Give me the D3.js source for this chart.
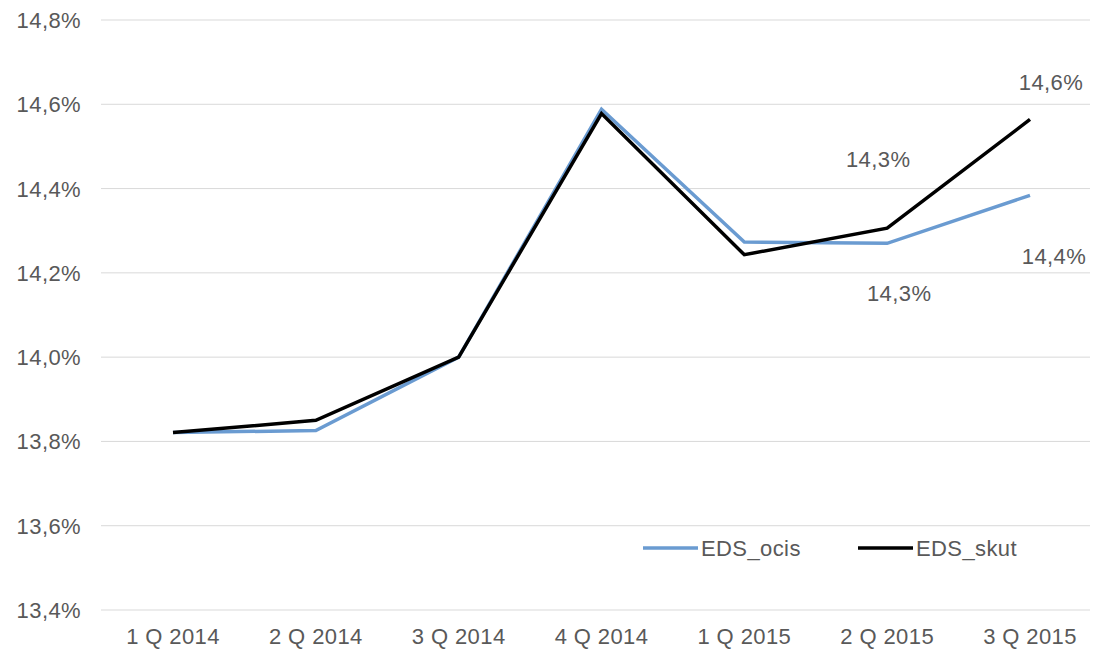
<!DOCTYPE html>
<html>
<head>
<meta charset="utf-8">
<script src="https://cdn.jsdelivr.net/npm/d3@7"></script>
<style>
  body { margin: 0; background: #fff; }
  svg text { font-family: "Liberation Sans", Arial, sans-serif; fill: #595959; font-size: 22px; letter-spacing: 0.4px; }
</style>
</head>
<body>
<div id="chart"></div>
<script>
const categories = ['1 Q 2014', '2 Q 2014', '3 Q 2014', '4 Q 2014', '1 Q 2015', '2 Q 2015', '3 Q 2015'];
const edsOcis = [13.821, 13.826, 14.0, 14.588, 14.273, 14.27, 14.384];
const edsSkut = [13.821, 13.85, 14.0, 14.578, 14.243, 14.306, 14.564];
const yTicks = [13.4, 13.6, 13.8, 14.0, 14.2, 14.4, 14.6, 14.8];

// data labels shown only on the last two points, as in the source
const labelsOcis = [null, null, null, null, null, '14,3%', '14,4%'];
const labelsSkut = [null, null, null, null, null, '14,3%', '14,6%'];

const width = 1094, height = 651;
const margin = { top: 20, right: 0, bottom: 41, left: 101 };

const svg = d3.select('#chart').append('svg')
    .attr('width', width)
    .attr('height', height);

const x = d3.scalePoint()
    .domain(categories)
    .range([margin.left + 72, width - margin.right - 64]);

const y = d3.scaleLinear()
    .domain([13.4, 14.8])
    .range([height - margin.bottom, margin.top]);

const fmt = v => v.toFixed(1).replace('.', ',') + '%';

// gridlines
svg.append('g')
    .selectAll('line')
    .data(yTicks)
    .join('line')
    .attr('x1', margin.left)
    .attr('x2', width - 4)
    .attr('y1', d => y(d))
    .attr('y2', d => y(d))
    .attr('stroke', '#d9d9d9')
    .attr('stroke-width', 1);

// y tick labels
svg.append('g')
    .selectAll('text')
    .data(yTicks)
    .join('text')
    .attr('x', 81)
    .attr('y', d => y(d) + 8)
    .attr('text-anchor', 'end')
    .text(fmt);

// x tick labels
svg.append('g')
    .selectAll('text')
    .data(categories)
    .join('text')
    .attr('x', d => x(d))
    .attr('y', 644)
    .attr('text-anchor', 'middle')
    .text(d => d);

const line = d3.line()
    .x((d, i) => x(categories[i]))
    .y(d => y(d));

const series = [
    { name: 'EDS_ocis', values: edsOcis, labels: labelsOcis, color: '#6a9bd1', dx: [0, 0, 0, 0, 0, 12, 24], dy: [0, 0, 0, 0, 0, 58, 69] },
    { name: 'EDS_skut', values: edsSkut, labels: labelsSkut, color: '#000000', dx: [0, 0, 0, 0, 0, -9, 21], dy: [0, 0, 0, 0, 0, -61, -29] }
];

series.forEach(s => {
    svg.append('path')
        .datum(s.values)
        .attr('fill', 'none')
        .attr('stroke', s.color)
        .attr('stroke-width', 3.5)
        .attr('stroke-linejoin', 'miter')
        .attr('d', line);
});

// data labels
series.forEach(s => {
    svg.append('g')
        .selectAll('text')
        .data(s.values.map((v, i) => ({ v, i, label: s.labels[i] })).filter(d => d.label))
        .join('text')
        .attr('x', d => x(categories[d.i]) + s.dx[d.i])
        .attr('y', d => y(d.v) + s.dy[d.i])
        .attr('text-anchor', 'middle')
        .text(d => d.label);
});

// legend
const legend = svg.append('g')
    .selectAll('g')
    .data(series)
    .join('g')
    .attr('transform', (d, i) => `translate(${643 + i * 215},548)`);

legend.append('line')
    .attr('x1', 0)
    .attr('x2', 55)
    .attr('stroke', d => d.color)
    .attr('stroke-width', 3.5);

legend.append('text')
    .attr('x', 58)
    .attr('y', 8)
    .text(d => d.name);
</script>
</body>
</html>
